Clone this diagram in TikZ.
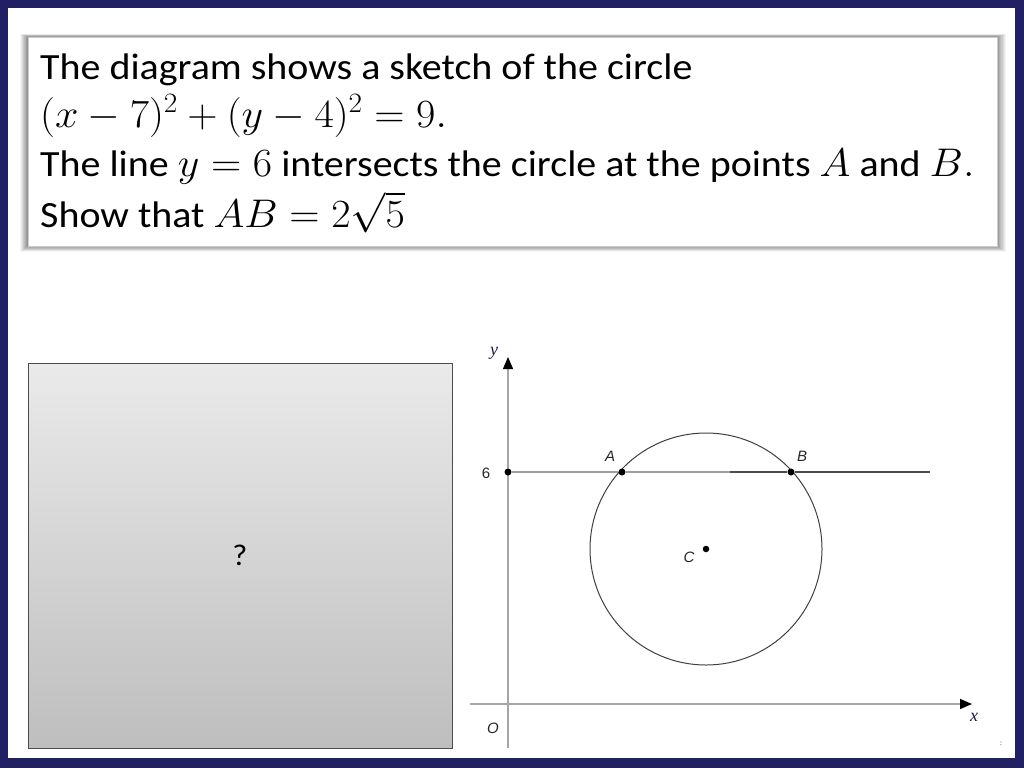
\RequirePackage{fix-cm}
\documentclass[tikz,border=0pt]{standalone}
\usepackage[no-math]{fontspec}
\usepackage{graphicx}
\setmainfont{Carlito}[FakeStretch=1.08]
\newfontfamily\arialf{Liberation Sans}
\newfontfamily\timesf{Liberation Serif}
\usetikzlibrary{arrows.meta}
\definecolor{navy}{RGB}{33,32,100}
\definecolor{boxtop}{RGB}{234,234,234}
\definecolor{boxbot}{RGB}{190,190,190}
\newcommand{\mth}[1]{{\fontsize{40}{44}\selectfont\scalebox{1.05}[1]{$#1$}}}
\tikzset{
  qline/.style={anchor=base west, inner sep=0pt, font=\fontsize{37}{44}\selectfont},
  axisline/.style={draw=gray!70, line width=1.4pt, -{Triangle[length=12pt,width=10pt,fill=black,color=black]}},
  ptdot/.style={circle, fill=black, inner sep=0pt, minimum size=7pt},
  glabel/.style={font=\arialf\itshape\fontsize{15}{15}\selectfont, text=black!85, inner sep=0pt},
  axlabel/.style={font=\timesf\itshape\fontsize{18}{18}\selectfont, text=navy!80!black, inner sep=0pt},
  qbox/.style={draw=black!70, line width=1pt, top color=boxtop, bottom color=boxbot, minimum width=424pt, minimum height=385pt, font=\fontsize{30}{30}\selectfont}
}
\begin{document}
\begin{tikzpicture}[x=1pt,y=-1pt]
\useasboundingbox (0,0) rectangle (1024,768);
\fill[navy] (0,0) rectangle (1024,768);
\fill[white] (8,8) rectangle (1015,758);
% shadow of the text box
\foreach \d/\o in {1/0.07,2/0.07,3/0.07,4/0.07,5/0.07,6/0.06,7/0.05,8/0.04} {
  \fill[black,opacity=\o] (28-\d,37-0.4*\d) rectangle (997+1.1*\d,246+0.7*\d);
}
\fill[white] (28,37) rectangle (997,246);
\draw[black!20, line width=0.6pt] (28,37) rectangle (997,246);
\node[qline] (l1) at (40,79) {The diagram shows a sketch of the circle};
\node[qline] (l2) at (40,127) {\mth{(x-7)^2+(y-4)^2=9.}};
\node[qline] (l3) at (40,176) {The line \mth{y=6} intersects the circle at the points \mth{A} and \mth{B.}};
\node[qline] (l4) at (40,227) {Show that \mth{AB=2\sqrt{5}}};
% question box
\node[qbox] (box) at (240,555.5) {?};
% graph
\coordinate (ybot) at (508,748);
\coordinate (ytop) at (508,357);
\coordinate (xleft) at (470,704);
\coordinate (xright) at (972,704);
\draw[axisline] (ybot) -- (ytop);
\draw[axisline] (xleft) -- (xright);
\coordinate (C) at (706,549);
\draw[black!75, line width=1pt] (C) circle[radius=116];
\node[ptdot] (p6) at (508,472) {};
\node[ptdot] (A) at (622,472) {};
\node[ptdot] (B) at (791,472) {};
\coordinate (mid) at (730,472);
\coordinate (lend) at (930,472);
\draw[gray!75, line width=1.4pt] (p6) -- (A) -- (mid);
\draw[black!70, line width=1.4pt] (mid) -- (B) -- (lend);
\node[ptdot, minimum size=6.5pt] (Cd) at (C) {};
\node[glabel] (lA) at (610,456) {A};
\node[glabel] (lB) at (802,456) {B};
\node[glabel] (lC) at (689,557) {C};
\node[glabel, font=\arialf\fontsize{15}{15}\selectfont] (l6) at (486,473) {6};
\node[glabel] (lO) at (493,728) {O};
\node[axlabel] (ly) at (494,353) {y};
\node[axlabel] (lx) at (974,717) {x};
\node[font=\fontsize{8}{8}\selectfont, text=black!60, inner sep=0pt] (dots) at (1001,744) {:};
\end{tikzpicture}
\end{document}
